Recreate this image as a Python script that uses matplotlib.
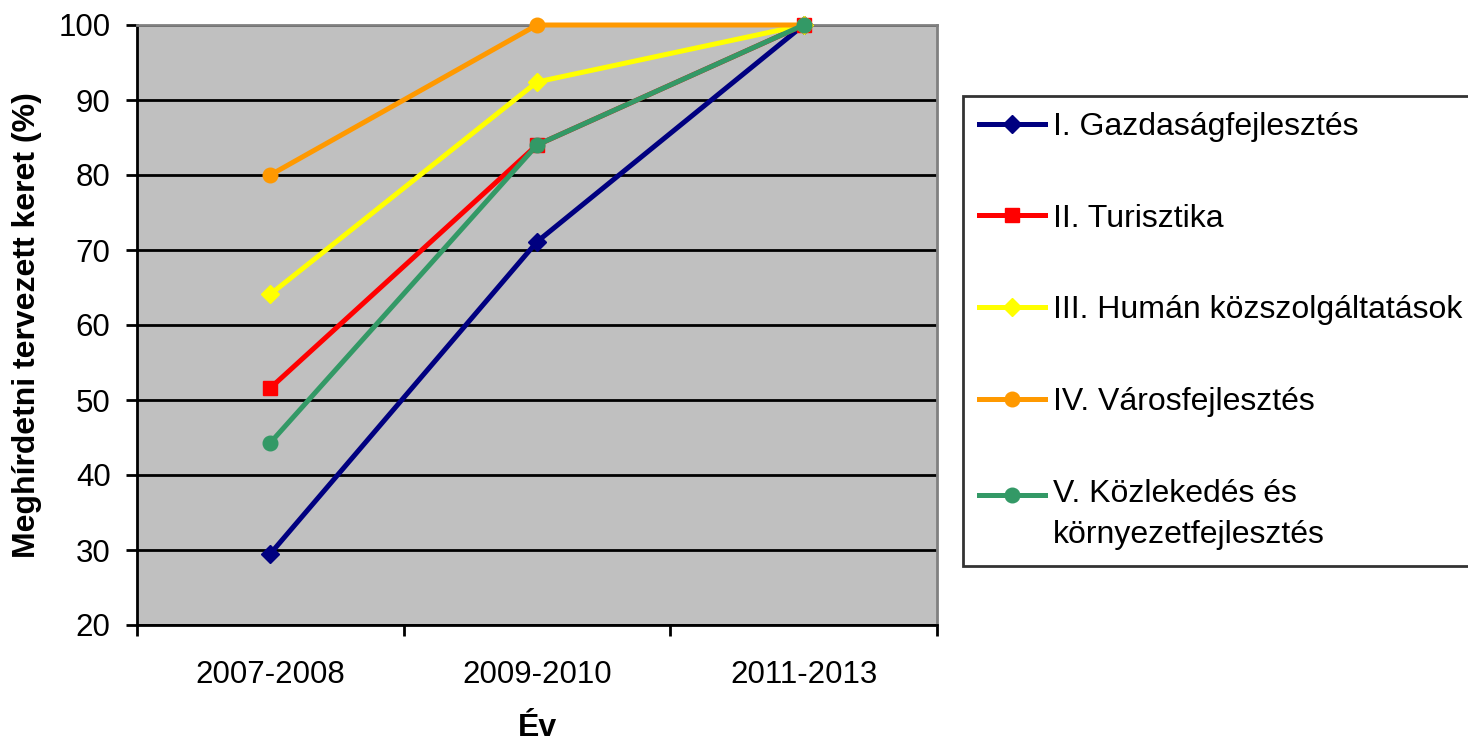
import matplotlib
matplotlib.use("Agg")
from matplotlib import pyplot as plt
import numpy as np

plt.rcParams['font.family'] = ['Liberation Sans', 'DejaVu Sans']

years = ["2007-2008", "2009-2010", "2011-2013"]

gazdasag = [29.5, 71.1, 100]
turisztika = [51.6, 84.0, 100]
human = [64.1, 92.4, 100]
varos = [80.0, 100, 100]
kozlekedes = [44.3, 84.0, 100]

series = [
    ("I. Gazdaságfejlesztés", gazdasag, "#000080", "D", 9.5),
    ("II. Turisztika", turisztika, "#FF0000", "s", 10),
    ("III. Humán közszolgáltatások", human, "#FFFF00", "D", 9.5),
    ("IV. Városfejlesztés", varos, "#FF9900", "o", 10.5),
    ("V. Közlekedés és\nkörnyezetfejlesztés", kozlekedes, "#339966", "o", 10.5),
]

fig = plt.figure(figsize=(14.68, 7.42), dpi=100)
ax = fig.add_axes([137/1468, 1 - 625/742, 800/1468, 600/742])
ax.set_facecolor("#C0C0C0")

x = list(range(len(years)))
for name, vals, col, mk, ms in series:
    ax.plot(x, vals, color=col, lw=3.6, marker=mk, markersize=ms,
            markeredgecolor=col, label=name, clip_on=False, zorder=3)

ax.set_xlim(-0.5, 2.5)
ax.set_ylim(20, 100)
ax.set_yticks(range(20, 101, 10))
ax.yaxis.grid(True, color="black", lw=2)
ax.set_axisbelow(True)

# category boundaries get the tick marks, labels sit in between
ax.set_xticks([-0.5, 0.5, 1.5, 2.5])
ax.set_xticklabels([])
ax.set_xticks(x, minor=True)
ax.set_xticklabels(years, minor=True)
ax.tick_params(axis="x", which="major", direction="out", length=8, width=2)
ax.tick_params(axis="x", which="minor", length=0, pad=25, labelsize=22.5)
ax.tick_params(axis="y", direction="out", length=8, width=2, labelsize=22.5, pad=11)

for s in ("left", "bottom"):
    ax.spines[s].set_color("black")
    ax.spines[s].set_linewidth(2)
for s in ("top", "right"):
    ax.spines[s].set_color("#808080")
    ax.spines[s].set_linewidth(2)

ax.set_ylabel("Meghírdetni tervezett keret (%)", fontsize=23, fontweight="bold", labelpad=12)
ax.set_xlabel("Év", fontsize=23, fontweight="bold", labelpad=17)

leg = ax.legend(loc="upper left", bbox_to_anchor=(963/1468, 1 - 96/742),
                bbox_transform=fig.transFigure, fontsize=23, frameon=True,
                fancybox=False, edgecolor="black", handlelength=2.07,
                labelspacing=1.93, borderpad=0.5, handletextpad=0.25,
                borderaxespad=0)
leg.get_frame().set_linewidth(2)
leg.texts[4].set_linespacing(1.5)
# put the last handle next to the first line of its label
h = leg.legend_handles[4]
h.set_ydata(np.asarray(h.get_ydata()) + 14.5)

plt.savefig("out.png", dpi=100)
